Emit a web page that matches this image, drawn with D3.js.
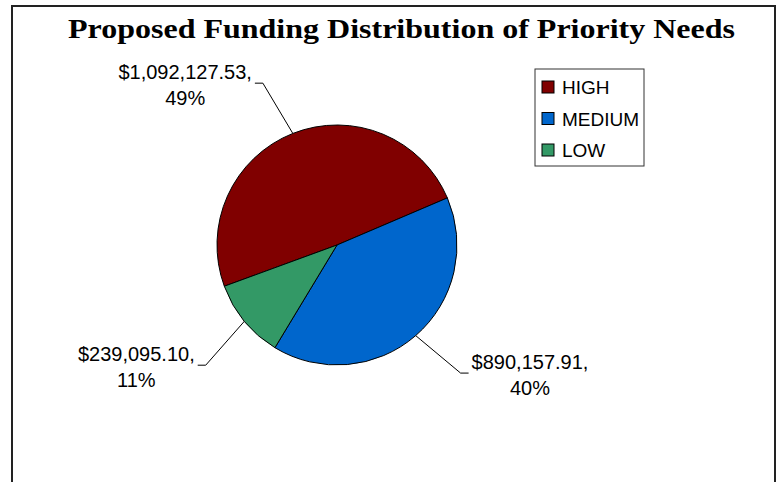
<!DOCTYPE html>
<html>
<head>
<meta charset="utf-8">
<script src="https://cdn.jsdelivr.net/npm/d3@7"></script>
<style>
  body { margin: 0; background: #fff; }
  svg { display: block; }
</style>
</head>
<body>
<svg id="chart" width="783" height="482"></svg>
<script>
// data
var categories = ["HIGH", "MEDIUM", "LOW"];
var amounts = [1092127.53, 890157.91, 239095.10];
var percentLabels = ["49%", "40%", "11%"];
var colors = ["#800000", "#0066cc", "#339966"];
var titleText = "Proposed Funding Distribution of Priority Needs";

var svg = d3.select("#chart");

// outer frame (bottom runs off the picture)
svg.append("rect")
    .attr("x", 12).attr("y", 6)
    .attr("width", 763).attr("height", 600)
    .attr("fill", "none")
    .attr("stroke", "#222")
    .attr("stroke-width", 2);

// title
svg.append("text")
    .attr("x", 68).attr("y", 38)
    .attr("textLength", 667)
    .attr("lengthAdjust", "spacingAndGlyphs")
    .style("font-family", "'Liberation Serif', serif")
    .style("font-weight", "bold")
    .style("font-size", "27px")
    .text(titleText);

// pie
var cx = 337, cy = 245, radius = 120;
var startDeg = -110.1;
var pie = d3.pie().sort(null)
    .startAngle(startDeg * Math.PI / 180)
    .endAngle(startDeg * Math.PI / 180 + 2 * Math.PI);
var arcs = pie(amounts);
var arc = d3.arc().innerRadius(0).outerRadius(radius);

var g = svg.append("g").attr("transform", "translate(" + cx + "," + cy + ")");

g.selectAll("path.slice")
    .data(arcs)
    .enter()
    .append("path")
    .attr("class", "slice")
    .attr("d", arc)
    .attr("fill", function(d, i) { return colors[i]; })
    .attr("stroke", "#000")
    .attr("stroke-width", 1);

// labels with leader lines
var fmt = d3.format("$,.2f");
var elbowR = 178, shift = -3 * Math.PI / 180;
var polar = function(r, a) { return [r * Math.sin(a), -r * Math.cos(a)]; };

arcs.forEach(function(d, i) {
    var mid = (d.startAngle + d.endAngle) / 2;
    var p0 = polar(radius, mid);
    var p1 = polar(elbowR, mid + shift);
    var side = Math.sin(mid) >= 0 ? 1 : -1;
    var p2 = [p1[0] + side * 8, p1[1]];

    g.append("polyline")
        .attr("points", [p0, p1, p2].map(function(p) { return p.join(","); }).join(" "))
        .attr("fill", "none")
        .attr("stroke", "#000")
        .attr("stroke-width", 1);

    var lbl = g.append("text")
        .attr("text-anchor", "middle")
        .style("font-family", "'Liberation Sans', Arial, sans-serif")
        .style("font-size", "20px")
        .attr("fill", "#000");
    var line1 = lbl.append("tspan").text(fmt(amounts[i]) + ",");
    var w = line1.node().getComputedTextLength();
    var centerX = side > 0 ? p2[0] + 3 + w / 2 : p2[0] - 3 - w / 2;
    var baseY = p1[1] - 4;
    line1.attr("x", centerX).attr("y", baseY);
    lbl.append("tspan").attr("x", centerX).attr("y", baseY + 26).text(percentLabels[i]);
});

// legend
var legend = svg.append("g").attr("transform", "translate(535,69)");
legend.append("rect")
    .attr("width", 109).attr("height", 97)
    .attr("fill", "#fff")
    .attr("stroke", "#333")
    .attr("stroke-width", 1);

var rows = legend.selectAll("g.row")
    .data(categories)
    .enter()
    .append("g")
    .attr("class", "row")
    .attr("transform", function(d, i) { return "translate(0," + (18 + i * 31.5) + ")"; });

rows.append("rect")
    .attr("x", 7).attr("y", -6)
    .attr("width", 12).attr("height", 12)
    .attr("fill", function(d, i) { return colors[i]; })
    .attr("stroke", "#000")
    .attr("stroke-width", 1);

rows.append("text")
    .attr("x", 27).attr("y", 7)
    .style("font-family", "'Liberation Sans', Arial, sans-serif")
    .style("font-size", "19px")
    .text(function(d) { return d; });
</script>
</body>
</html>
